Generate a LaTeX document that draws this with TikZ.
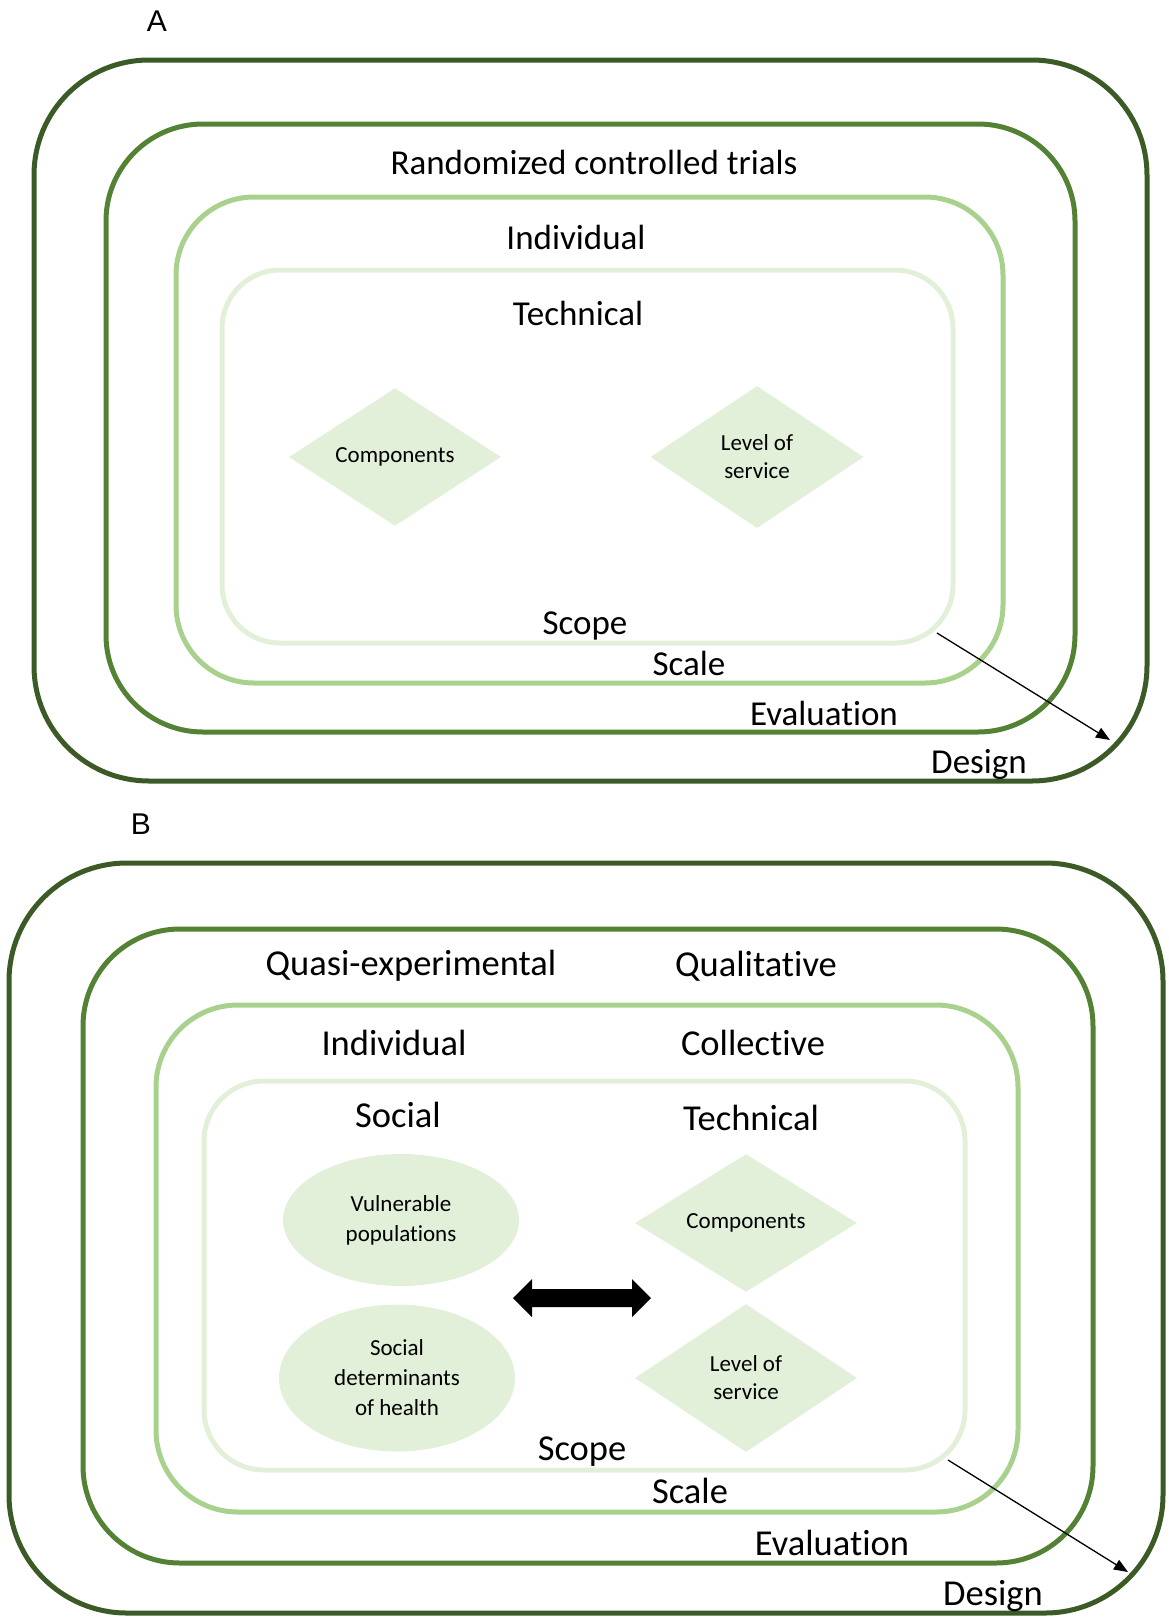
\documentclass[tikz,border=0pt]{standalone}
\usepackage{fontspec}
\setmainfont{Carlito}[Ligatures=NoCommon]
\newfontfamily\arialfont{Liberation Sans}
\usetikzlibrary{shapes.geometric,arrows.meta}
\definecolor{gDesign}{HTML}{3B5A26}
\definecolor{gEval}{HTML}{548235}
\definecolor{gScale}{HTML}{A9D18E}
\definecolor{gScope}{HTML}{E2F0D9}
\tikzset{
  ring/.style={line width=5pt},
  lbl/.style={inner sep=0pt, font=\fontsize{35}{42}\selectfont},
  lblB/.style={inner sep=0pt, font=\fontsize{36.5}{43}\selectfont},
  panel/.style={inner sep=0pt, font=\arialfont\fontsize{30}{36}\selectfont},
  dia/.style={diamond, fill=gScope, inner sep=0pt, align=center, font=\fontsize{23}{28}\selectfont},
  ell/.style={ellipse, fill=gScope, inner sep=0pt, align=center, font=\fontsize{23}{30}\selectfont},
  thinarrow/.style={line width=1.3pt, -{Triangle[length=14pt,width=11pt]}},
}
\begin{document}
\begin{tikzpicture}[x=1pt,y=-1pt]
\useasboundingbox (0,0) rectangle (1168,1618);
% ---------------- Panel A ----------------
\node[panel] (labA) at (157,21) {A};
\draw[ring, gDesign, rounded corners=115pt] (34,60) rectangle (1147,781);
\draw[ring, gEval, rounded corners=97pt] (106,124) rectangle (1075,732);
\draw[ring, gScale, rounded corners=78pt] (176,197) rectangle (1003,683);
\draw[ring, gScope, rounded corners=58pt] (222,270) rectangle (953,643);
\node[lbl] (rct) at (594,162) {Randomized controlled trials};
\node[lbl] (indA) at (576,237) {Individual};
\node[lbl] (techA) at (578,313) {Technical};
\node[dia, minimum width=212pt, minimum height=128pt] (compA) at (395,457) {Components};
\node[dia, minimum width=213pt, minimum height=142pt] (losA) at (757,457) {Level of\\service};
\node[lbl] (scopeA) at (585,626) {Scope};
\node[lbl] (scaleA) at (689,663) {Scale};
\node[lbl] (evalA) at (824,713) {Evaluation};
\node[lbl] (desA) at (979,764) {Design};
\coordinate (arA1) at (937,633);
\coordinate (arA2) at (1110,740);
\draw[thinarrow] (arA1) -- (arA2);
% ---------------- Panel B ----------------
\node[panel] (labB) at (141,824) {B};
\draw[ring, gDesign, rounded corners=118pt] (9,863) rectangle (1163,1613);
\draw[ring, gEval, rounded corners=97pt] (83,929) rectangle (1093,1563);
\draw[ring, gScale, rounded corners=82pt] (156,1005) rectangle (1018,1512);
\draw[ring, gScope, rounded corners=60pt] (204,1081) rectangle (965,1470);
\node[lblB] (quasi) at (411,966) {Quasi-experimental};
\node[lblB] (qual) at (756,966) {Qualitative};
\node[lblB] (indB) at (394,1043) {Individual};
\node[lblB] (coll) at (753,1043) {Collective};
\node[lblB] (soc) at (398,1115) {Social};
\node[lblB] (techB) at (751,1118) {Technical};
\node[ell, minimum width=236pt, minimum height=132pt] (vul) at (401,1220) {Vulnerable\\populations};
\node[ell, minimum width=236pt, minimum height=147pt] (sdh) at (397,1378) {Social\\determinants\\of health};
\node[dia, minimum width=222pt, minimum height=133pt] (compB) at (746,1223) {Components};
\node[dia, minimum width=222pt, minimum height=148pt] (losB) at (746,1378) {Level of\\service};
\coordinate (dbl) at (582,1298);
\fill[black] ([xshift=-69pt]dbl) -- ([xshift=-50pt,yshift=-19pt]dbl) -- ([xshift=-50pt,yshift=-9pt]dbl)
  -- ([xshift=50pt,yshift=-9pt]dbl) -- ([xshift=50pt,yshift=-19pt]dbl) -- ([xshift=69pt]dbl)
  -- ([xshift=50pt,yshift=19pt]dbl) -- ([xshift=50pt,yshift=9pt]dbl) -- ([xshift=-50pt,yshift=9pt]dbl)
  -- ([xshift=-50pt,yshift=19pt]dbl) -- cycle;
\node[lblB] (scopeB) at (582,1452) {Scope};
\node[lblB] (scaleB) at (690,1491) {Scale};
\node[lblB] (evalB) at (832,1543) {Evaluation};
\node[lblB] (desB) at (993,1596) {Design};
\coordinate (arB1) at (948,1460);
\coordinate (arB2) at (1128,1572);
\draw[thinarrow] (arB1) -- (arB2);
\end{tikzpicture}
\end{document}
